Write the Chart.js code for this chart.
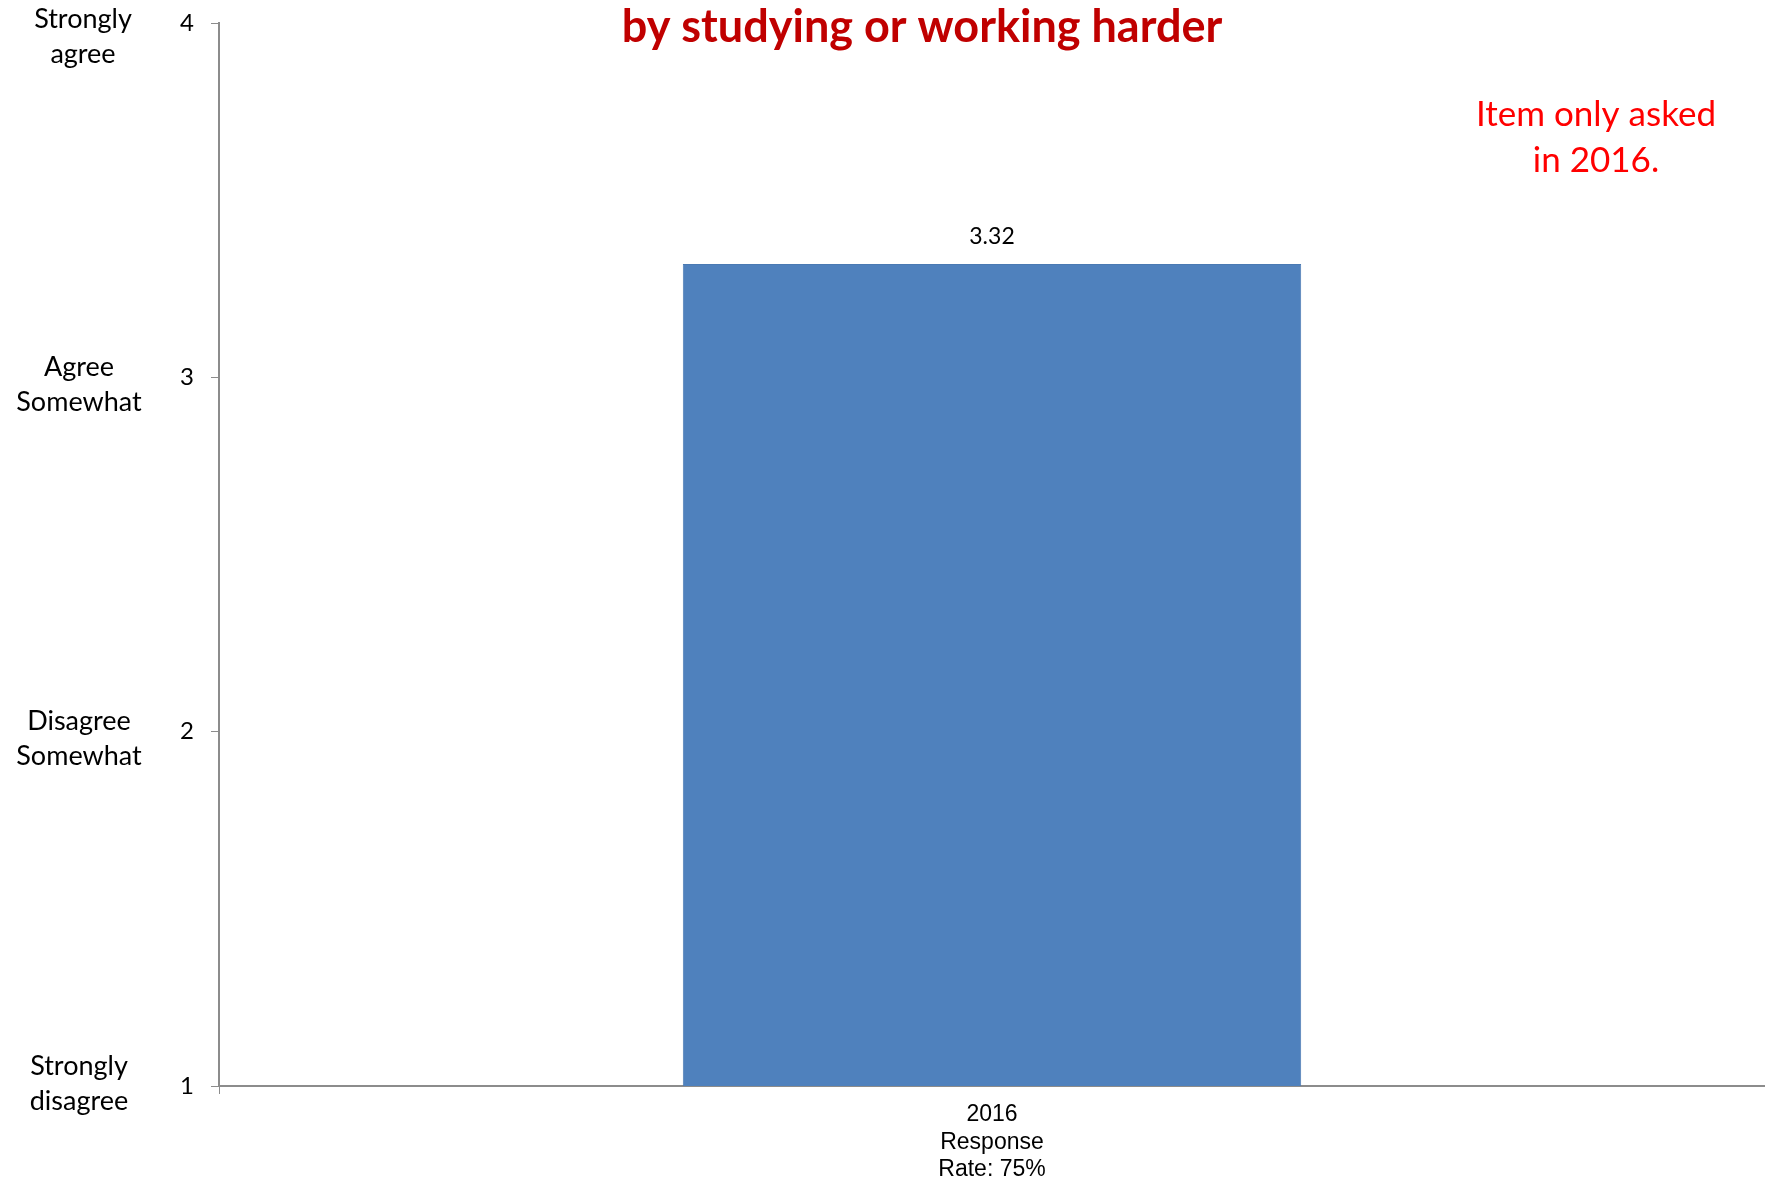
<!DOCTYPE html>
<html lang="en">
<head>
    <meta charset="UTF-8">
    <title>by studying or working harder</title>
    <script src="https://cdn.jsdelivr.net/npm/chart.js"></script>
    <style>
        body {
            margin: 0;
            background: #ffffff;
        }
        #grafico {
            display: block;
        }
    </style>
</head>
<body>
    <canvas id="grafico" width="1765" height="1182"></canvas>

    <script>
        const categories = [['2016', 'Response', 'Rate: 75%']];
        const values = [3.32];
        const yTicks = [1, 2, 3, 4];
        const yTickLabels = [
            ['Strongly', 'disagree'],
            ['Disagree', 'Somewhat'],
            ['Agree', 'Somewhat'],
            ['Strongly', 'agree']
        ];
        const titleText = 'by studying or working harder';
        const noteLines = ['Item only asked', 'in 2016.'];

        const axisGray = '#8c8c8c';

        // texto extra: titulo, nota roja, etiquetas de escala y valor sobre la barra
        const extraText = {
            id: 'extraText',
            afterDraw(chart) {
                const ctx = chart.ctx;
                const yScale = chart.scales.y;
                ctx.save();

                ctx.fillStyle = '#c00000';
                ctx.font = 'bold 45px Lato';
                ctx.textAlign = 'center';
                ctx.textBaseline = 'middle';
                ctx.fillText(titleText, 922, 27);

                ctx.fillStyle = '#ff0000';
                ctx.font = '35px Lato';
                noteLines.forEach((line, i) => {
                    ctx.fillText(line, 1596, 115 + i * 46);
                });

                ctx.fillStyle = '#000000';
                ctx.font = '27px Lato';
                yTicks.forEach((v, i) => {
                    const y = yScale.getPixelForValue(v);
                    let first = y - 10;
                    if (first < 19) first = 19;
                    if (first + 35 > 1101) first = 1101 - 35;
                    const cx = v === 4 ? 83 : 79;
                    yTickLabels[i].forEach((line, j) => {
                        ctx.fillText(line, cx, first + j * 35);
                    });
                });

                const meta = chart.getDatasetMeta(0);
                ctx.font = '23px Lato';
                ctx.textBaseline = 'bottom';
                meta.data.forEach((bar, i) => {
                    ctx.fillText(values[i].toFixed(2), bar.x, bar.y - 16);
                });

                ctx.restore();
            }
        };

        const ctx = document.getElementById('grafico').getContext('2d');

        const grafico = new Chart(ctx, {
            type: 'bar',
            data: {
                labels: categories,
                datasets: [{
                    data: values,
                    backgroundColor: '#4f81bd',
                    borderColor: '#4a7ab3',
                    borderWidth: 1,
                    categoryPercentage: 0.4,
                    barPercentage: 1.0
                }]
            },
            options: {
                responsive: false,
                animation: false,
                layout: {
                    padding: { top: 23, right: 0, bottom: 0, left: 0 }
                },
                plugins: {
                    legend: { display: false },
                    tooltip: { enabled: false }
                },
                scales: {
                    y: {
                        min: 1,
                        max: 4,
                        afterFit(scale) {
                            scale.width = 219;
                            scale.paddingTop = 0;
                            scale.paddingBottom = 0;
                        },
                        ticks: {
                            stepSize: 1,
                            padding: 17,
                            color: '#000000',
                            font: { family: 'Lato', size: 24 }
                        },
                        grid: {
                            drawOnChartArea: false,
                            color: axisGray,
                            tickLength: 8
                        },
                        border: { color: axisGray, width: 2 }
                    },
                    x: {
                        afterFit(scale) {
                            scale.height = 96;
                            scale.paddingLeft = 0;
                            scale.paddingRight = 0;
                        },
                        ticks: {
                            padding: 7,
                            color: '#000000',
                            font: { family: 'Liberation Sans', size: 23, lineHeight: 1.2 }
                        },
                        grid: {
                            offset: true,
                            drawOnChartArea: false,
                            color: axisGray,
                            tickLength: 8
                        },
                        border: { color: axisGray, width: 2 }
                    }
                }
            },
            plugins: [extraText]
        });
    </script>
</body>
</html>
